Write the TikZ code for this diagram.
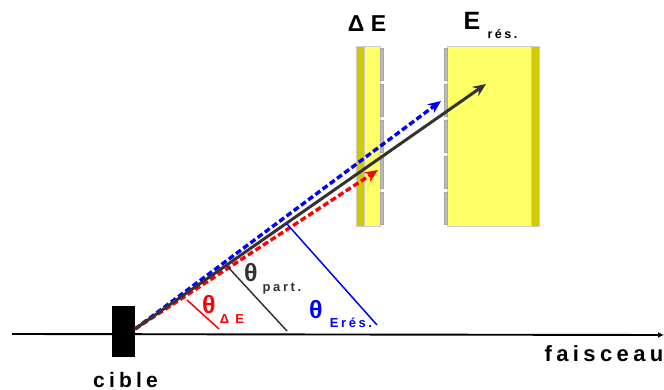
\documentclass[tikz,border=0pt]{standalone}
\usepackage{fontspec}
\setmainfont{Liberation Sans}
\newfontfamily\widefont[LetterSpace=20]{Liberation Sans}
\usetikzlibrary{arrows.meta,positioning,calc}
\definecolor{detyellow}{RGB}{255,255,102}
\definecolor{detdark}{RGB}{204,204,0}
\definecolor{traceblack}{RGB}{51,51,51}
\definecolor{padgrey}{RGB}{186,186,186}

\begin{document}
\begin{tikzpicture}[
  x=1pt, y=-1pt,
  light/.style={fill=detyellow, draw=black!20, line width=0.6pt},
  dark/.style={fill=detdark, draw=black!20, line width=0.6pt},
  pad/.style={fill=padgrey, draw=black!35, line width=0.4pt},
  arr/.style={-{Stealth[length=13pt,width=11pt]}, line width=3pt},
  dasharr/.style={arr, line width=3.4pt, dash pattern=on 6pt off 3pt},
  foot/.style={line width=1.5pt},
  lab/.style={font=\bfseries\widefont, inner sep=0pt, anchor=base}
]
\useasboundingbox (0,0) rectangle (664,390);
% detectors
\fill[light] (364,46) rectangle (380,226);
\fill[dark] (356,46) rectangle (364,226);
\fill[light] (447,46) rectangle (531,226);
\fill[dark] (531,46) rectangle (539,226);
\foreach \y in {48,84,120,156,192} {
  \fill[pad] (380,\y) rectangle (383,\y+32);
  \fill[pad] (444,\y) rectangle (447,\y+32);
}
% beam and target
\coordinate (beamstart) at (12,334);
\coordinate (beamend) at (664,335);
\draw[-{Latex[length=6pt,width=6pt]}, line width=1.9pt] (beamstart) -- (beamend);
\fill[black] (112,306) rectangle (135,357);
% trajectories
\coordinate (impact) at (135,329);
\coordinate (tipblue) at (441,101);
\coordinate (tippart) at (486,84);
\coordinate (tipred) at (378,170);
\draw[dasharr, blue] (impact) -- (tipblue);
\draw[dasharr, red] (impact) -- (tipred);
\draw[arr, traceblack] (impact) -- (tippart);
% angle feet
\coordinate (rtop) at (187,300);
\coordinate (rbot) at (219,329);
\coordinate (ktop) at (227,266);
\coordinate (kbot) at (287,331);
\coordinate (btop) at (287,224);
\coordinate (bbot) at (377,325);
\draw[foot, red] (rtop) -- (rbot);
\draw[foot, traceblack] (ktop) -- (kbot);
\draw[foot, blue] (btop) -- (bbot);
% labels
\node[lab, font=\fontsize{23}{23}\selectfont\bfseries] (de) at (367,32) {Δ E};
\node[lab, font=\fontsize{25}{25}\selectfont\bfseries] (eres) at (472,30) {E};
\node[lab, font=\fontsize{12.5}{12.5}\selectfont\bfseries\widefont] (eressub) at (502.5,39) {rés.};
\node[lab, font=\fontsize{25}{25}\selectfont\bfseries, text=red] (thde) at (209,313) {θ};
\node[lab, font=\fontsize{13}{13}\selectfont\bfseries\widefont, text=red] (thdesub) at (232,323) {Δ E};
\node[lab, font=\fontsize{25}{25}\selectfont\bfseries, text=traceblack] (thpart) at (251,281) {θ};
\node[lab, font=\fontsize{13}{13}\selectfont\bfseries\widefont, text=traceblack] (thpartsub) at (282,291) {part.};
\node[lab, font=\fontsize{25}{25}\selectfont\bfseries, text=blue] (thres) at (316,318) {θ};
\node[lab, font=\fontsize{13}{13}\selectfont\bfseries\widefont, text=blue] (thressub) at (351,327) {Erés.};
\node[lab, font=\fontsize{21}{21}\selectfont\bfseries\widefont] (cible) at (125.5,387) {cible};
\node[lab, font=\fontsize{22}{22}\selectfont\bfseries\widefont] (faisceau) at (604,361) {faisceau};
\end{tikzpicture}
\end{document}
